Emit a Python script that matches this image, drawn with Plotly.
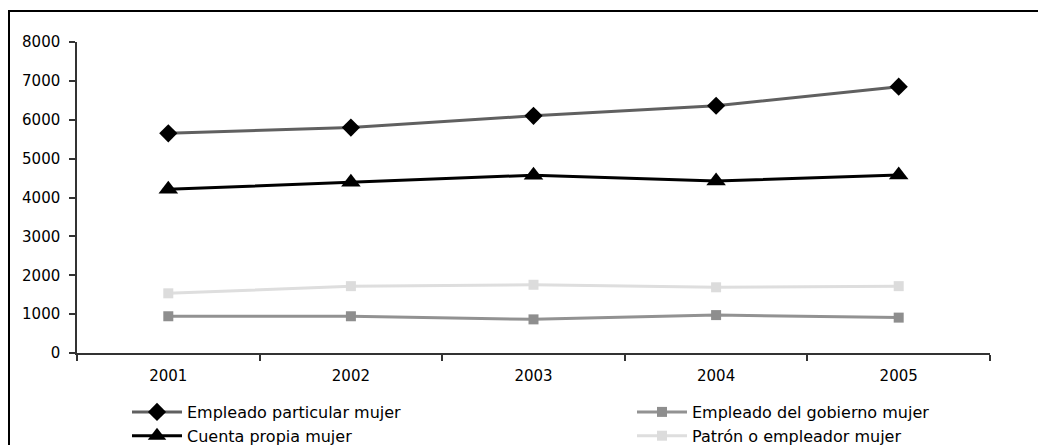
import plotly.graph_objects as go

# Annual figures, women, by employment category
years = ["2001", "2002", "2003", "2004", "2005"]
particular = [5650, 5800, 6100, 6360, 6850]
gobierno = [945, 945, 865, 975, 910]
cuenta_propia = [4210, 4390, 4575, 4425, 4580]
patron = [1535, 1720, 1755, 1690, 1720]

names = [
    "Empleado particular mujer",
    "Empleado del gobierno mujer",
    "Cuenta propia mujer",
    "Patrón o empleador mujer",
]

FONT = "DejaVu Sans"

fig = go.Figure()

# left legend column: particular + cuenta propia; right column: gobierno + patrón
fig.add_trace(go.Scatter(
    x=years, y=particular, name=names[0], mode="lines+markers",
    line=dict(color="#606060", width=3),
    marker=dict(symbol="diamond", size=14, color="#000000"),
    legend="legend",
))
fig.add_trace(go.Scatter(
    x=years, y=gobierno, name=names[1], mode="lines+markers",
    line=dict(color="#929292", width=3),
    marker=dict(symbol="square", size=10, color="#8e8e8e"),
    legend="legend2",
))
fig.add_trace(go.Scatter(
    x=years, y=cuenta_propia, name=names[2], mode="lines+markers",
    line=dict(color="#000000", width=3),
    marker=dict(symbol="triangle-up", size=17, color="#000000"),
    legend="legend",
))
fig.add_trace(go.Scatter(
    x=years, y=patron, name=names[3], mode="lines+markers",
    line=dict(color="#dedede", width=3),
    marker=dict(symbol="square", size=10, color="#dcdcdc"),
    legend="legend2",
))

W, H = 1038, 445
L, R, T, B = 77, 48, 42, 92
pw, ph = W - L - R, H - T - B

legend_common = dict(
    orientation="v",
    xanchor="left", xref="paper",
    y=(H - 395) / H, yanchor="top", yref="container",
    itemwidth=50,
    font=dict(family=FONT, size=16, color="#000000"),
    bgcolor="rgba(0,0,0,0)",
    traceorder="normal",
)

fig.update_layout(
    width=W, height=H,
    margin=dict(l=L, r=R, t=T, b=B, autoexpand=False),
    paper_bgcolor="white", plot_bgcolor="white",
    font=dict(family=FONT, size=15, color="#000000"),
    showlegend=True,
    legend=dict(x=(127 - L) / pw, **legend_common),
    legend2=dict(x=(632 - L) / pw, **legend_common),
    xaxis=dict(
        type="category",
        range=[-0.5, len(years) - 0.5],
        showgrid=False, zeroline=False,
        showline=True, linecolor="#333333", linewidth=1.5,
        ticks="outside", ticklen=6, tickcolor="#333333", tickwidth=1.5,
        tickson="boundaries",
        ticklabelstandoff=8,
        tickfont=dict(family=FONT, size=15),
    ),
    yaxis=dict(
        range=[0, 8000], dtick=1000,
        showgrid=False, zeroline=False,
        showline=True, linecolor="#333333", linewidth=1.5,
        ticks="outside", ticklen=6, tickcolor="#333333", tickwidth=1.5,
        ticklabelstandoff=6,
        tickfont=dict(family=FONT, size=15),
    ),
    shapes=[
        # outer frame around the chart
        dict(
            type="rect", xref="paper", yref="paper",
            x0=(9 - L) / pw, x1=(W + 20 - L) / pw,
            y0=-(H + 20 - (T + ph)) / ph, y1=1 + (T - 11) / ph,
            line=dict(color="#000000", width=2),
            fillcolor="rgba(0,0,0,0)", layer="below",
        )
    ],
)

fig.write_html("out.html")
